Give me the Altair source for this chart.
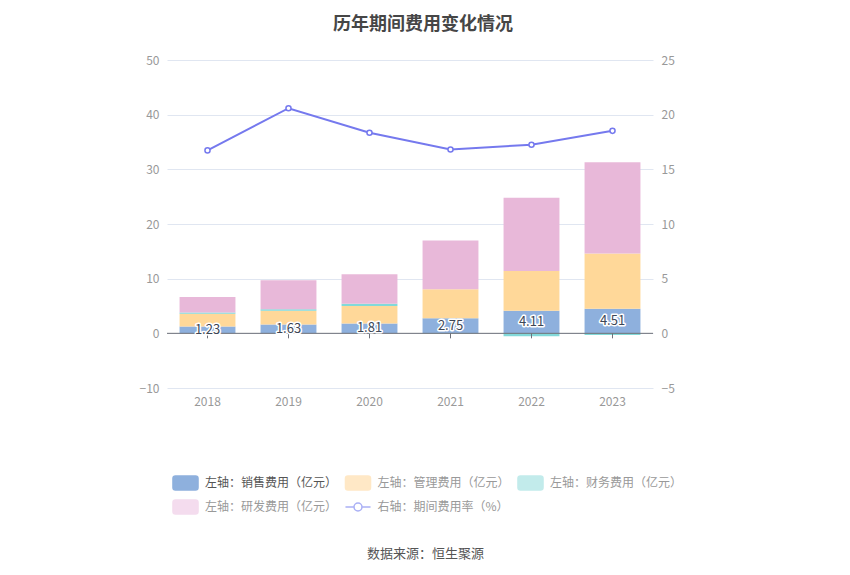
import altair as alt
import pandas as pd

years = ["2018", "2019", "2020", "2021", "2022", "2023"]
sales = [1.23, 1.63, 1.81, 2.75, 4.11, 4.51]
mgmt = [2.34, 2.48, 3.21, 5.30, 7.28, 10.09]
finance = [0.25, 0.30, 0.40, -0.05, -0.55, -0.30]
rd = [2.83, 5.28, 5.39, 8.91, 13.41, 16.70]
rate = [16.73, 20.59, 18.34, 16.82, 17.25, 18.52]

series_names = ["左轴：销售费用（亿元）", "左轴：管理费用（亿元）",
                "左轴：财务费用（亿元）", "左轴：研发费用（亿元）"]
line_name = "右轴：期间费用率（%）"
bar_colors = ["#8eb0dd", "#ffd899", "#82d9d9", "#e8b8d9"]
line_color = "#7579ee"

legend_names = series_names + [line_name]
legend_fill = ["#8eb0dd", "#ffe8c6", "#c2ebeb", "#f4dcee", "#ffffff"]
legend_stroke = ["#8eb0dd", "#ffe8c6", "#c2ebeb", "#f4dcee", "#aab0f5"]
# symbol paths in units of half the legend symbol box (7px)
rect_path = ("M-1.43,-1 H1.43 A0.36,0.36 0 0 1 1.79,-0.64 V0.64 A0.36,0.36 0 0 1 1.43,1 "
             "H-1.43 A0.36,0.36 0 0 1 -1.79,0.64 V-0.64 A0.36,0.36 0 0 1 -1.43,-1 Z")
line_path = ("M-1.79,0 H-0.57 M0.57,0 H1.79 M-0.57,0 A0.57,0.57 0 1 1 0.57,0 "
             "A0.57,0.57 0 1 1 -0.57,0")
legend_shapes = [rect_path, rect_path, rect_path, rect_path, line_path]

FONT = "Noto Sans CJK SC"

rows = []
for i, yr in enumerate(years):
    for k, vals in enumerate([sales, mgmt, finance, rd]):
        rows.append({"year": yr, "type": series_names[k], "value": vals[i], "order": k})
df_bar = pd.DataFrame(rows)
df_line = pd.DataFrame({"year": years, "rate": rate, "sales": sales})
df_leg = pd.DataFrame({"name": legend_names})

x_enc = alt.X(
    "year:N",
    scale=alt.Scale(paddingInner=0.31, paddingOuter=0.155),
    axis=alt.Axis(
        labelAngle=0, domain=False, ticks=False, grid=False,
        labelColor="#999999", labelFontSize=12, labelPadding=8, labelFont=FONT,
        title="数据来源：恒生聚源", titleX=258, titleY=165, titleColor="#555555",
        titleFontSize=13, titleFontWeight="normal", titleBaseline="middle",
        titleAlign="center", titleFont=FONT,
    ),
)

left_scale = alt.Scale(domain=[-10, 50], nice=False, zero=False)

bars = alt.Chart(df_bar).mark_bar().encode(
    x=x_enc,
    y=alt.Y(
        "value:Q", stack="zero", scale=left_scale, title=None,
        axis=alt.Axis(values=[-10, 0, 10, 20, 30, 40, 50], grid=True, gridColor="#e0e6f1",
                      domain=False, ticks=False, labelColor="#999999", labelFontSize=12,
                      labelPadding=8, labelFont=FONT),
    ),
    color=alt.Color("type:N", scale=alt.Scale(domain=series_names, range=bar_colors), legend=None),
    order=alt.Order("order:Q"),
)

zero_rule = alt.Chart(df_line).transform_aggregate(n="count()").mark_rule(
    color="#6e7079", strokeWidth=1
).encode(y=alt.datum(0))

zero_ticks = alt.Chart(df_line).mark_rule(color="#6e7079", strokeWidth=1, y2Offset=5).encode(
    x=alt.X("year:N"), y=alt.datum(0), y2=alt.datum(0)
)

label_base = alt.Chart(df_line).transform_calculate(half="datum.sales / 2").encode(
    x=alt.X("year:N"),
    y=alt.Y("half:Q", title=None),
    text=alt.Text("sales:Q", format=".2f"),
)
label_halo = label_base.mark_text(fontSize=13, font=FONT, stroke="white", strokeWidth=3,
                                  strokeJoin="round", fill="white", baseline="middle")
label_text = label_base.mark_text(fontSize=13, font=FONT, fill="#3d4656", baseline="middle")

left = alt.layer(bars, zero_rule, zero_ticks, label_halo, label_text)

right_y = alt.Y(
    "rate:Q", title=None, scale=alt.Scale(domain=[-5, 25], nice=False, zero=False),
    axis=alt.Axis(orient="right", values=[-5, 0, 5, 10, 15, 20, 25], grid=False, domain=False,
                  ticks=False, labelColor="#999999", labelFontSize=12, labelPadding=8,
                  labelFont=FONT),
)
line = alt.Chart(df_line).mark_line(color=line_color, strokeWidth=2).encode(x=alt.X("year:N"), y=right_y)
pts = alt.Chart(df_line).mark_point(filled=True, fill="white", stroke=line_color, size=26,
                                    strokeWidth=1.5, opacity=1).encode(x=alt.X("year:N"), y=right_y)
right = alt.layer(line, pts)

leg = alt.Legend(
    title=None, orient="none", legendX=10.5, legendY=415, direction="horizontal",
    columns=3, columnPadding=4.5, rowPadding=4, symbolSize=196, symbolStrokeWidth=1.5,
    labelFontSize=12, labelOffset=11.5, labelFont=FONT, padding=0,
    labelColor=alt.ExprRef(expr="datum.label === '左轴：销售费用（亿元）' ? '#555555' : '#999999'"),
)
legend_layer = alt.Chart(df_leg).transform_filter("false").mark_point(
    filled=True, strokeWidth=1.5, opacity=1
).encode(
    fill=alt.Fill("name:N", scale=alt.Scale(domain=legend_names, range=legend_fill), legend=leg),
    stroke=alt.Stroke("name:N", scale=alt.Scale(domain=legend_names, range=legend_stroke), legend=leg),
    shape=alt.Shape("name:N", scale=alt.Scale(domain=legend_names, range=legend_shapes), legend=leg),
)

chart = alt.layer(left, right, legend_layer).resolve_scale(y="independent").properties(
    width=486, height=328,
    background="white",
    autosize=alt.AutoSizeParams(type="none"),
    padding={"left": 159, "top": 52, "right": 180, "bottom": 180},
    title=alt.TitleParams("历年期间费用变化情况", fontSize=18, fontWeight="bold", color="#464646",
                          anchor="middle", dx=13, offset=20, font=FONT),
).configure_view(stroke=None)

chart.save("out.html", embed_options={"renderer": "svg", "actions": False})
